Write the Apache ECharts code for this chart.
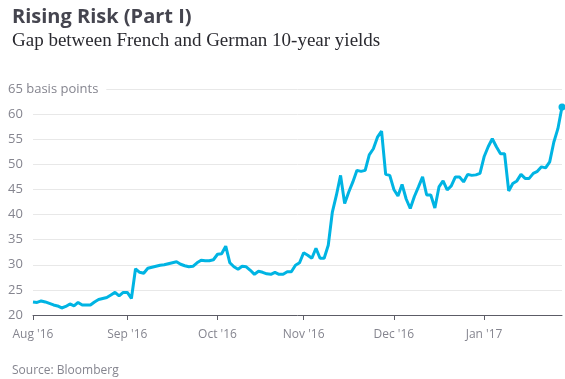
<!DOCTYPE html>
<html>
<head>
<meta charset="utf-8">
<script src="https://cdn.jsdelivr.net/npm/echarts@6/dist/echarts.min.js"></script>
<style>html,body{margin:0;padding:0;background:#fff;}#c{width:565px;height:379px;}</style>
</head>
<body>
<div id="c"></div>
<script>
// Trading days from Aug 1 2016 to Jan 27 2017 (weekdays)
const startDate = '2016-08-01';
const endDate = '2017-01-27';
const spreadBp = [
  22.6, 22.5, 22.8, 22.6, 22.3, 22.0, 21.8, 21.4, 21.7, 22.2,
  21.8, 22.5, 22.0, 22.0, 22.0, 22.6, 23.1, 23.3, 23.5, 24.0,
  24.5, 23.8, 24.5, 24.5, 23.3, 29.2, 28.5, 28.3, 29.3, 29.5,
  29.7, 29.9, 30.0, 30.2, 30.4, 30.6, 30.1, 29.8, 29.6, 29.7,
  30.4, 30.9, 30.8, 30.8, 31.0, 32.1, 32.2, 33.7, 30.4, 29.6,
  29.1, 29.7, 29.6, 28.9, 28.1, 28.7, 28.5, 28.2, 28.1, 28.5,
  28.1, 28.1, 28.6, 28.6, 29.9, 30.4, 32.4, 31.9, 31.3, 33.3,
  31.3, 31.3, 33.9, 40.5, 43.9, 47.8, 42.2, 44.5, 46.5, 48.8,
  48.6, 48.8, 51.9, 53.1, 55.4, 56.6, 48.0, 47.8, 45.0, 43.7,
  46.0, 43.1, 41.2, 43.6, 45.5, 47.5, 43.9, 43.9, 41.3, 45.5,
  46.7, 44.9, 45.7, 47.5, 47.5, 46.5, 48.0, 47.8, 47.9, 48.2,
  51.5, 53.5, 55.1, 53.5, 52.1, 52.1, 44.7, 46.2, 46.7, 48.0,
  47.2, 47.2, 48.2, 48.6, 49.5, 49.3, 50.5, 54.4, 57.1, 61.4
];
const monthLabels = {"2016-08": "Aug '16", "2016-09": "Sep '16", "2016-10": "Oct '16", "2016-11": "Nov '16", "2016-12": "Dec '16", "2017-01": "Jan '17"};
const yTicks = [20, 25, 30, 35, 40, 45, 50, 55, 60, 65];

// build weekday calendar
const dates = [];
(function () {
  const d = new Date(startDate + 'T00:00:00Z');
  const e = new Date(endDate + 'T00:00:00Z');
  while (d <= e) {
    const wd = d.getUTCDay();
    if (wd !== 0 && wd !== 6) dates.push(d.toISOString().slice(0, 10));
    d.setUTCDate(d.getUTCDate() + 1);
  }
})();
const firstOfMonth = new Set();
{
  let prev = '';
  dates.forEach((s, i) => { const m = s.slice(0, 7); if (m !== prev) { firstOfMonth.add(i); prev = m; } });
}
const isTick = (i) => firstOfMonth.has(i);

const chart = echarts.init(document.getElementById('c'), null, {renderer: 'canvas'});
const gray = '#85858f';
chart.setOption({
  animation: false,
  backgroundColor: '#fff',
  title: [
    {text: 'Rising Risk (Part I)', left: 7, top: 2,
     textStyle: {fontFamily: 'Open Sans', fontWeight: 'bold', fontSize: 20, color: '#45454f'}},
    {text: 'Gap between French and German 10-year yields', left: 7, top: 27,
     textStyle: {fontFamily: 'Liberation Serif', fontWeight: 'normal', fontSize: 19, color: '#2a2a30'}},
    {text: 'Source: Bloomberg', left: 7, top: 360,
     textStyle: {fontFamily: 'Open Sans', fontWeight: 'normal', fontSize: 12, color: gray}}
  ],
  grid: {left: 33, right: 3, top: 89, bottom: 64},
  xAxis: {
    type: 'category',
    data: dates,
    boundaryGap: false,
    axisLine: {lineStyle: {color: '#5c5c66', width: 1}},
    axisTick: {show: true, length: 5, interval: (i) => isTick(i), lineStyle: {color: '#5c5c66'}},
    axisLabel: {
      interval: (i) => isTick(i),
      formatter: (v) => monthLabels[v.slice(0, 7)],
      color: gray, fontFamily: 'Open Sans', fontSize: 12, margin: 14
    },
    splitLine: {show: false}
  },
  yAxis: {
    type: 'value', min: 20, max: 65, interval: 5,
    axisLine: {show: false}, axisTick: {show: false},
    splitLine: {lineStyle: {color: '#e8e8e8', width: 1}},
    axisLabel: {
      align: 'left', margin: 25, color: gray, fontFamily: 'Open Sans', fontSize: 13,
      formatter: (v) => v === 65 ? '{a|65 basis points}' : String(v),
      rich: {a: {color: gray, fontFamily: 'Open Sans', fontSize: 13, backgroundColor: '#fff', padding: [2, 8, 2, 0]}}
    }
  },
  series: [{
    type: 'line',
    data: spreadBp,
    symbol: 'none',
    lineStyle: {color: '#00b4e3', width: 3},
    z: 3,
    markPoint: {
      symbol: 'circle', symbolSize: 7,
      itemStyle: {color: '#00b4e3'},
      label: {show: false},
      data: [{coord: [dates.length - 1, spreadBp[spreadBp.length - 1]]}]
    }
  }]
});
</script>
</body>
</html>
